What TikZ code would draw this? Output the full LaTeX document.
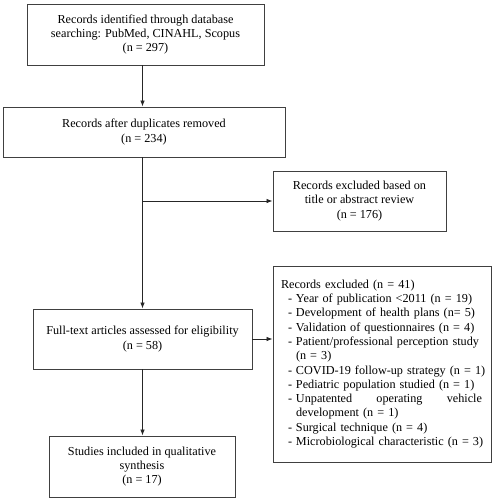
\documentclass[tikz,border=0pt]{standalone}
\usepackage{fontspec}
\setmainfont{Liberation Serif}
\usepackage{tikz}
\usetikzlibrary{arrows.meta,positioning}

\newcommand{\exitem}[1]{\hspace*{7pt}\makebox[8pt][l]{-}\mbox{#1}}
\newcommand{\excont}[1]{\hspace*{15pt}\mbox{#1}}

\begin{document}
\begin{tikzpicture}[x=1pt,y=1pt,
    recbox/.style={draw=black!75, line width=0.9pt, align=center, inner sep=0pt,
        font=\fontsize{12.2}{14.3}\selectfont},
    flow/.style={draw=black!85, line width=0.8pt, -{Latex[length=6pt,width=4.5pt]}}]
            \useasboundingbox (0,0) rectangle (494,-500); % page
            \node[recbox, minimum width=237, minimum height=61] (ident) at (145.5,-34.5) {Records identified through database\\searching: PubMed, CINAHL, Scopus\\(n = 297)}; % identification
            \node[recbox, minimum width=282, minimum height=50] (dupl) at (144,-132) {Records after duplicates removed\\(n = 234)}; % duplicates
            \node[recbox, minimum width=173, minimum height=60] (screenexcl) at (359.5,-201) {Records excluded based on\\title or abstract review\\(n = 176)}; % screening exclusions
            \node[recbox, minimum width=219, minimum height=60] (full) at (142.5,-339) {Full-text articles assessed for eligibility\\(n = 58)}; % eligibility
            \node[recbox, align=left, text width=202, inner xsep=8, minimum height=196] (fullexcl) at (382,-364) {Records excluded (n = 41)\\
                \exitem{Year of publication <2011 (n = 19)}\\
                \exitem{Development of health plans (n= 5)}\\
                \exitem{Validation of questionnaires (n = 4)}\\
                \exitem{Patient/professional perception study}\\
                \excont{(n = 3)}\\
                \exitem{COVID-19 follow-up strategy (n = 1)}\\
                \exitem{Pediatric population studied (n = 1)}\\
                \exitem{\makebox[186pt][l]{Unpatented\hfill operating\hfill vehicle}}\\
                \excont{development (n = 1)}\\
                \exitem{Surgical technique (n = 4)}\\
                \exitem{Microbiological characteristic (n = 3)}\\[6pt]}; % eligibility exclusions
            \node[recbox, minimum width=186, minimum height=61] (incl) at (142,-466.5) {Studies included in qualitative\\synthesis\\(n = 17)}; % included
            \coordinate (branch) at (full.north |- screenexcl.west); % split point
            \draw[flow] (full.north |- ident.south) -- (full.north |- dupl.north); % ident -> dupl
            \draw[flow] (full.north |- dupl.south) -- (full.north); % dupl -> full
            \draw[flow] (branch) -- (screenexcl.west); % -> screening exclusions
            \draw[flow] (full.east) -- (fullexcl.west |- full.east); % -> eligibility exclusions
            \draw[flow] (full.south) -- (full.south |- incl.north); % full -> incl
        \end{tikzpicture}
\end{document}
